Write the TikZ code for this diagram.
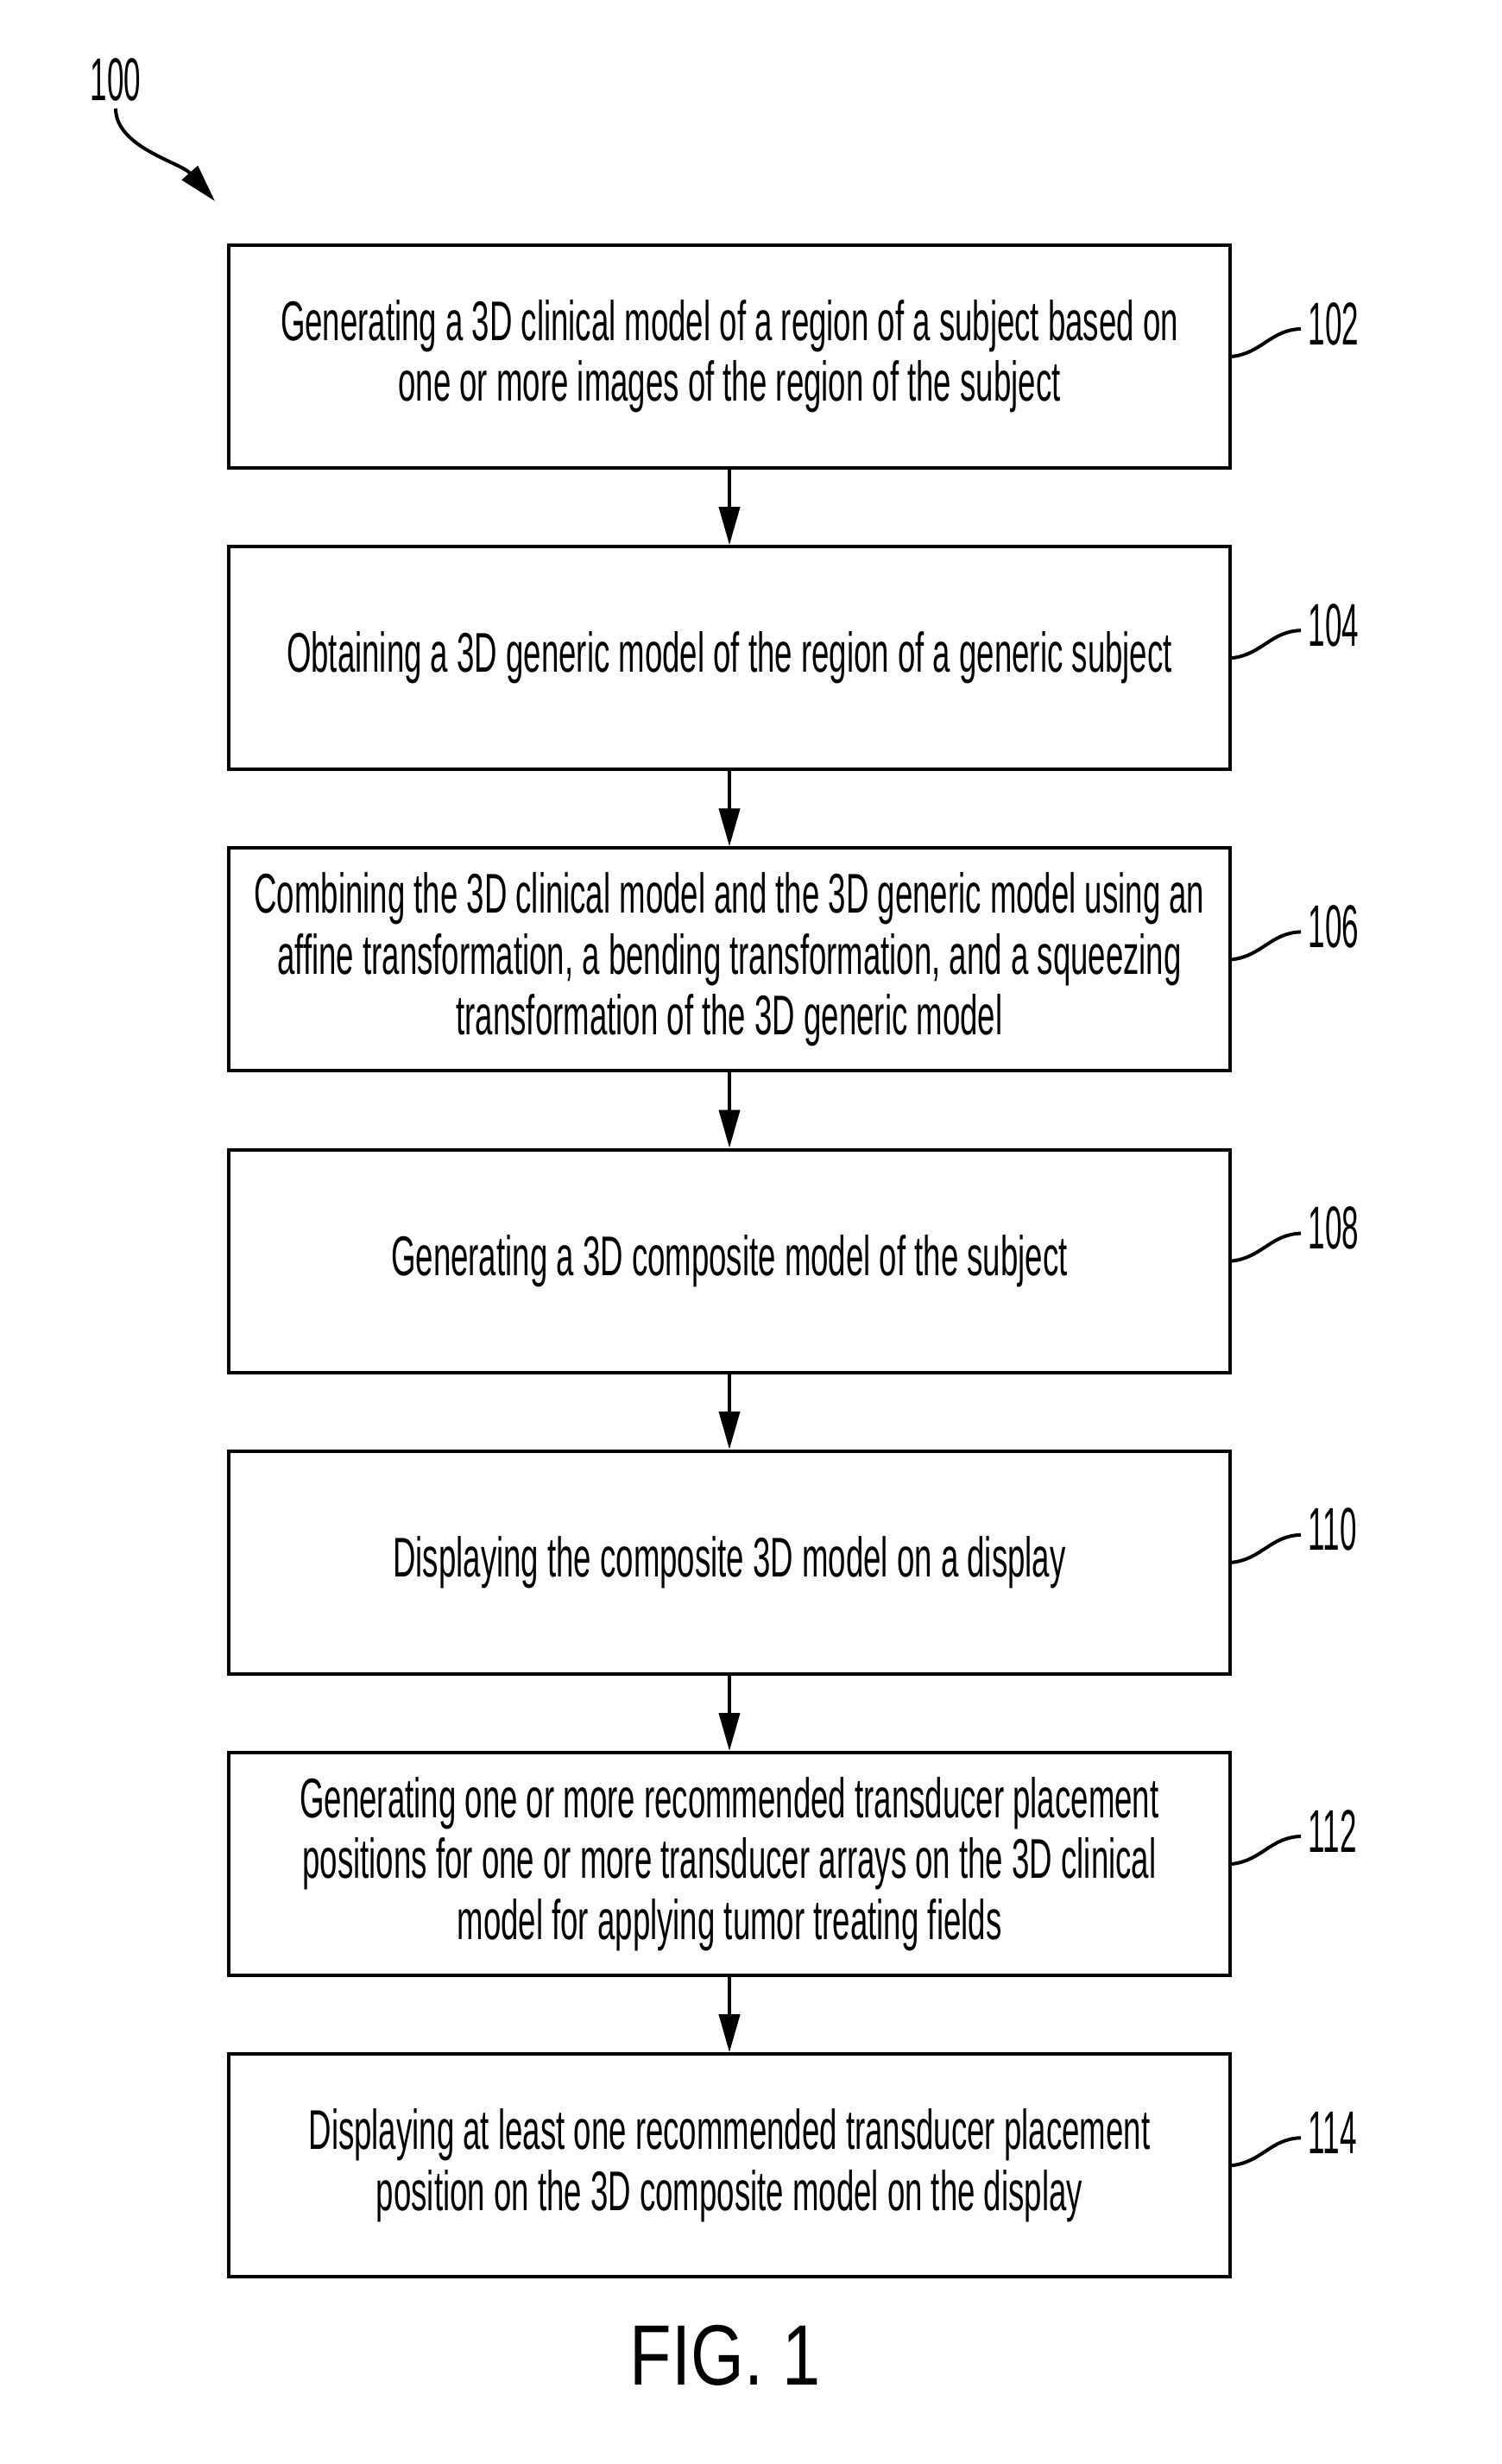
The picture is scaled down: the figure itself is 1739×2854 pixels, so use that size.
\documentclass[tikz,border=0pt]{standalone}
\usepackage{fontspec}
\setmainfont{Liberation Sans}[FakeStretch=0.5]
\newfontfamily\stepfont{Liberation Sans}[FakeStretch=0.565]
\newfontfamily\figfont{Liberation Sans}[FakeStretch=0.8]
\usepackage{tikz}
\usetikzlibrary{positioning,arrows.meta}

\tikzset{
    block/.style={draw, line width=1pt, minimum width=290pt, minimum height=64.5pt,
        align=center, inner sep=0pt, font=\stepfont\fontsize{16.2}{17.6}\selectfont},
    flowarrow/.style={line width=1pt, -{Triangle[length=11pt,width=6pt]}},
    leader/.style={line width=1pt},
    reflabel/.style={anchor=west, inner sep=2pt, font=\fontsize{17.5}{18}\selectfont}
}

\begin{document}
\begin{tikzpicture}[x=0.25pt, y=-0.25pt, node distance=21.8pt]
    \useasboundingbox (0,0) rectangle (1739,2854);

    % Steps
    \node[block] (s102) at (845,413) {Generating a 3D clinical model of a region of a subject based on\\one or more images of the region of the subject};
    \node[block, below=of s102] (s104) {Obtaining a 3D generic model of the region of a generic subject};
    \node[block, below=of s104] (s106) {Combining the 3D clinical model and the 3D generic model using an\\affine transformation, a bending transformation, and a squeezing\\transformation of the 3D generic model};
    \node[block, below=of s106] (s108) {Generating a 3D composite model of the subject};
    \node[block, below=of s108] (s110) {Displaying the composite 3D model on a display};
    \node[block, below=of s110] (s112) {Generating one or more recommended transducer placement\\positions for one or more transducer arrays on the 3D clinical\\model for applying tumor treating fields};
    \node[block, below=of s112] (s114) {Displaying at least one recommended transducer placement\\position on the 3D composite model on the display};

    % Flow
    \foreach \a/\b in {s102/s104, s104/s106, s106/s108, s108/s110, s110/s112, s112/s114}
        \draw[flowarrow] (\a) -- (\b);

    % Reference numerals
    \foreach \s/\t in {s102/102, s104/104, s106/106, s108/108, s110/110, s112/112, s114/114} {
        \node[reflabel] (l\t) at ([shift={(80,-38)}]\s.east) {\t};
        \draw[leader] (\s.east) .. controls +(35,-4) and +(-35,1) .. ([shift={(0,6)}]l\t.west);
    }

    % Figure numeral
    \node[reflabel, anchor=center] (n100) at (134,92) {100};
    \coordinate (c100) at (249,233);
    \draw[flowarrow] (n100.south) .. controls +(0,45) and +(-40,-45) .. (c100);

    \node[font=\figfont\fontsize{24.8}{26}\selectfont] (fig1) at (840,2728) {FIG. 1};
\end{tikzpicture}
\end{document}
